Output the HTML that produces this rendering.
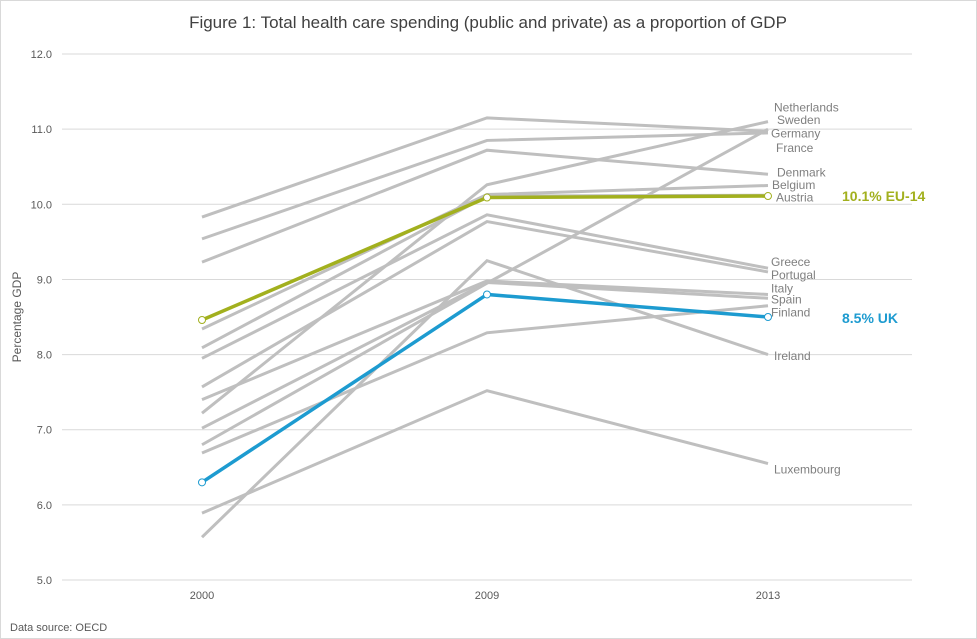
<!DOCTYPE html>
<html><head><meta charset="utf-8"><style>
body{margin:0;background:#fff;}
svg{display:block;font-family:"Liberation Sans",Arial,sans-serif;}
</style></head><body>
<svg id="c" width="977" height="639">
<rect x="0.5" y="0.5" width="976" height="638" fill="#fff" stroke="#d9d9d9"/>
<text x="488" y="28" text-anchor="middle" font-size="17" fill="#404040">Figure 1: Total health care spending (public and private) as a proportion of GDP</text>
<text transform="translate(21,317) rotate(-90)" text-anchor="middle" font-size="12" fill="#595959">Percentage GDP</text>
<text x="10" y="631" font-size="11" fill="#595959">Data source: OECD</text>
<g id="grid"></g><g id="grey"></g><g id="hl"></g>
</svg>
<script>
const years=["2000","2009","2013"];
const yTicks=[5,6,7,8,9,10,11,12];
const countries=["France","Germany","Denmark","Netherlands","Belgium","Austria","Greece","Portugal","Ireland","Italy","Spain","Sweden","Finland","Luxembourg"];
const v2000=[9.83,9.54,9.23,7.22,8.34,8.09,7.95,7.57,5.57,7.40,7.02,6.80,6.69,5.89];
const v2009=[11.15,10.85,10.72,10.26,10.13,10.11,9.86,9.77,9.25,8.98,8.96,8.95,8.29,7.52];
const v2013=[10.97,10.95,10.40,11.10,10.25,10.12,9.15,9.10,8.00,8.80,8.75,11.00,8.65,6.55];
const labelNames=["Netherlands","Sweden","Germany","France","Denmark","Belgium","Austria","Greece","Portugal","Italy","Spain","Finland","Ireland","Luxembourg"];
const labelVals=[11.29,11.12,10.94,10.75,10.42,10.26,10.09,9.23,9.06,8.88,8.73,8.56,7.98,6.47];
const labelOffsets=[0,3,-3,2,3,-2,2,-3,-3,-3,-3,-3,0,0];
const eu=[8.46,10.09,10.11];
const uk=[6.30,8.80,8.50];
const NS="http://www.w3.org/2000/svg";
const xs=i=>[202,487,768][i];
const y=v=>580-(v-5)*75.14;
function mk(p,t,a){const e=document.createElementNS(NS,t);for(const k in a)e.setAttribute(k,a[k]);p.appendChild(e);return e;}
const grid=document.getElementById('grid');
yTicks.forEach(t=>{
 const l=mk(grid,'line',{x1:62,x2:912,y1:y(t),y2:y(t),stroke:'#d9d9d9','stroke-width':1});
 
 
 const tx=mk(grid,'text',{x:52,y:y(t)+4,'text-anchor':'end','font-size':11,fill:'#595959'});
 tx.textContent=t.toFixed(1);
 
 
});
years.forEach((yr,i)=>{
 const tx=mk(grid,'text',{x:xs(i),y:599,'text-anchor':'middle','font-size':11,fill:'#595959'});
 tx.textContent=yr;
 
 
});
const g=document.getElementById('grey');
countries.forEach((c,i)=>{
 const vals=[v2000[i],v2009[i],v2013[i]];
 const p=mk(g,'polyline',{points:vals.map((v,j)=>xs(j)+','+y(v)).join(' '),fill:'none',stroke:'#bfbfbf','stroke-width':3});
 
 
});
labelNames.forEach((n,i)=>{
 const tx=mk(g,'text',{x:774+labelOffsets[i],y:y(labelVals[i])+4,'font-size':12,fill:'#7f7f7f'});
 tx.textContent=n;
 
 
});
const h=document.getElementById('hl');
function hi(vals,col,name,txt,ty){
 const p=mk(h,'polyline',{points:vals.map((v,j)=>xs(j)+','+y(v)).join(' '),fill:'none',stroke:col,'stroke-width':3.5});
 
 
 vals.forEach((v,j)=>{
  const c=mk(h,'circle',{cx:xs(j),cy:y(v),r:3.5,fill:'#fff',stroke:col,'stroke-width':1});
  
  
 });
 const t=mk(h,'text',{x:842,y:ty,'font-size':14,'font-weight':'bold',fill:col});
 t.textContent=txt;
 
 
}
hi(eu,'#a2b01e','eu-14',(eu[2].toFixed(1))+'% EU-14',y(eu[2])+5);
hi(uk,'#1d9bd0','uk',(uk[2].toFixed(1))+'% UK',y(uk[2])+6);
</script>
</body></html>
